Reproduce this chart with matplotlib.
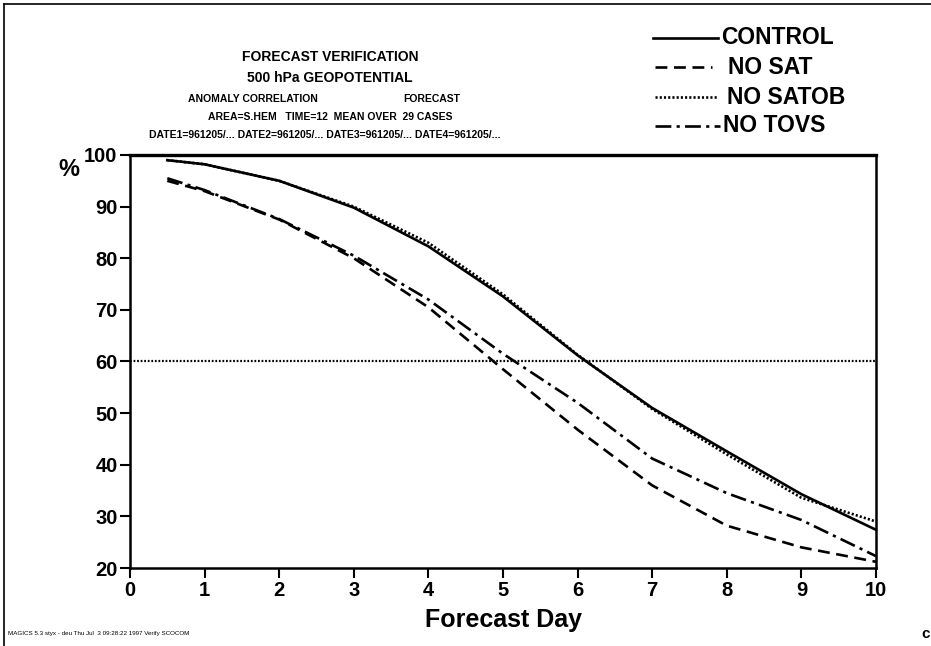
"""Forecast verification: 500 hPa anomaly correlation, S.HEM"""

import matplotlib
matplotlib.use("Agg")
import matplotlib.pyplot as plt
from matplotlib.lines import Line2D

# ── data ─────────────────────────────────────────────────────────────────────
days = [0.5, 1, 2, 3, 4, 5, 6, 7, 8, 9, 10]
control = [99.0, 98.2, 95.0, 89.8, 82.3, 72.6, 61.2, 51.0, 42.6, 34.3, 27.4]
no_sat = [95.0, 93.0, 87.5, 80.0, 70.5, 58.5, 46.8, 36.0, 28.2, 24.0, 21.2]
no_satob = [99.0, 98.2, 95.0, 90.0, 83.0, 73.0, 61.3, 50.8, 42.0, 33.6, 29.0]
no_tovs = [95.5, 93.2, 87.6, 80.5, 72.0, 61.5, 52.0, 41.2, 34.5, 29.3, 22.3]

labels = ["CONTROL", "NO SAT", "NO SATOB", "NO TOVS"]
yticks = [20, 30, 40, 50, 60, 70, 80, 90, 100]
xticks = list(range(0, 11))
ref_level = 60

# ── style ────────────────────────────────────────────────────────────────────
BOLD = ["Liberation Sans", "DejaVu Sans"]
styles = [
    dict(linestyle="-"),
    dict(linestyle=(0, (4.5, 2.5))),
    dict(linestyle=(0, (0.8, 0.8))),
    dict(linestyle=(0, (6, 2, 1.2, 2))),
]

W, H = 931, 646
fig = plt.figure(figsize=(W / 100, H / 100), dpi=100)
ax = fig.add_axes([130 / W, 1 - 568 / H, (876 - 130) / W, (568 - 155) / H])

for vals, st in zip([control, no_sat, no_satob, no_tovs], styles):
    ax.plot(days, vals, color="black", linewidth=1.9, **st)

ax.axhline(ref_level, color="black", linewidth=1.6, linestyle=(0, (0.8, 0.8)))

ax.set_xlim(0, 10)
ax.set_ylim(20, 100)
ax.set_xticks(xticks)
ax.set_yticks(yticks)
for lbl in ax.get_xticklabels() + ax.get_yticklabels():
    lbl.set_family(BOLD)
    lbl.set_fontweight("bold")
    lbl.set_fontsize(14.5)
ax.tick_params(axis="both", direction="out", length=7, width=1.5, pad=2)
for s in ax.spines.values():
    s.set_linewidth(1.8)
ax.spines["top"].set_linewidth(2.4)

ax.set_xlabel("Forecast Day", family=BOLD, fontweight="bold", fontsize=18, labelpad=6)
fig.text(69 / W, 1 - 170 / H, "%", family=BOLD, fontweight="bold", fontsize=17,
         ha="center", va="center")

# ── header text ──────────────────────────────────────────────────────────────
hdr = dict(family=BOLD, fontweight="bold", ha="center", va="center")
fig.text(330 / W, 1 - 57 / H, "FORECAST VERIFICATION", fontsize=10, **hdr)
fig.text(330 / W, 1 - 78 / H, "500 hPa GEOPOTENTIAL", fontsize=10, **hdr)
fig.text(253 / W, 1 - 99 / H, "ANOMALY CORRELATION", fontsize=7.5, **hdr)
fig.text(432 / W, 1 - 99 / H, "FORECAST", fontsize=7.5, **hdr)
fig.text(330 / W, 1 - 117 / H, "AREA=S.HEM   TIME=12  MEAN OVER  29 CASES", fontsize=7.5, **hdr)
fig.text(325 / W, 1 - 135 / H,
         "DATE1=961205/... DATE2=961205/... DATE3=961205/... DATE4=961205/...",
         fontsize=7.5, **hdr)

# ── legend (manual, top right) ───────────────────────────────────────────────
leg_y = [38, 67, 97, 126]
leg_x0 = [653, 655, 655, 655]
leg_x1 = [718, 712, 717, 720]
leg_tx = [721, 728, 727, 723]
for lab, st, yy, x0, x1, tx in zip(labels, styles, leg_y, leg_x0, leg_x1, leg_tx):
    fy = 1 - yy / H
    fig.add_artist(Line2D([x0 / W, x1 / W], [fy, fy], color="black",
                          linewidth=1.9, **st))
    fig.text(tx / W, fy, lab, family=BOLD, fontweight="bold", fontsize=16.5,
             ha="left", va="center")

# ── page frame and footer ────────────────────────────────────────────────────
fig.add_artist(Line2D([4 / W, 4 / W], [0, 1 - 4 / H], color="black", linewidth=1.2))
fig.add_artist(Line2D([4 / W, 1], [1 - 4 / H, 1 - 4 / H], color="black", linewidth=1.2))
fig.text(8 / W, 1 - 634 / H,
         "MAGICS 5.3 styx - deu Thu Jul  3 09:28:22 1997 Verify SCOCOM",
         family=BOLD, fontsize=4.5, ha="left", va="center")
fig.text(926 / W, 1 - 634 / H, "c", family=BOLD, fontweight="bold", fontsize=11,
         ha="center", va="center")

fig.savefig("out.png", dpi=100)
